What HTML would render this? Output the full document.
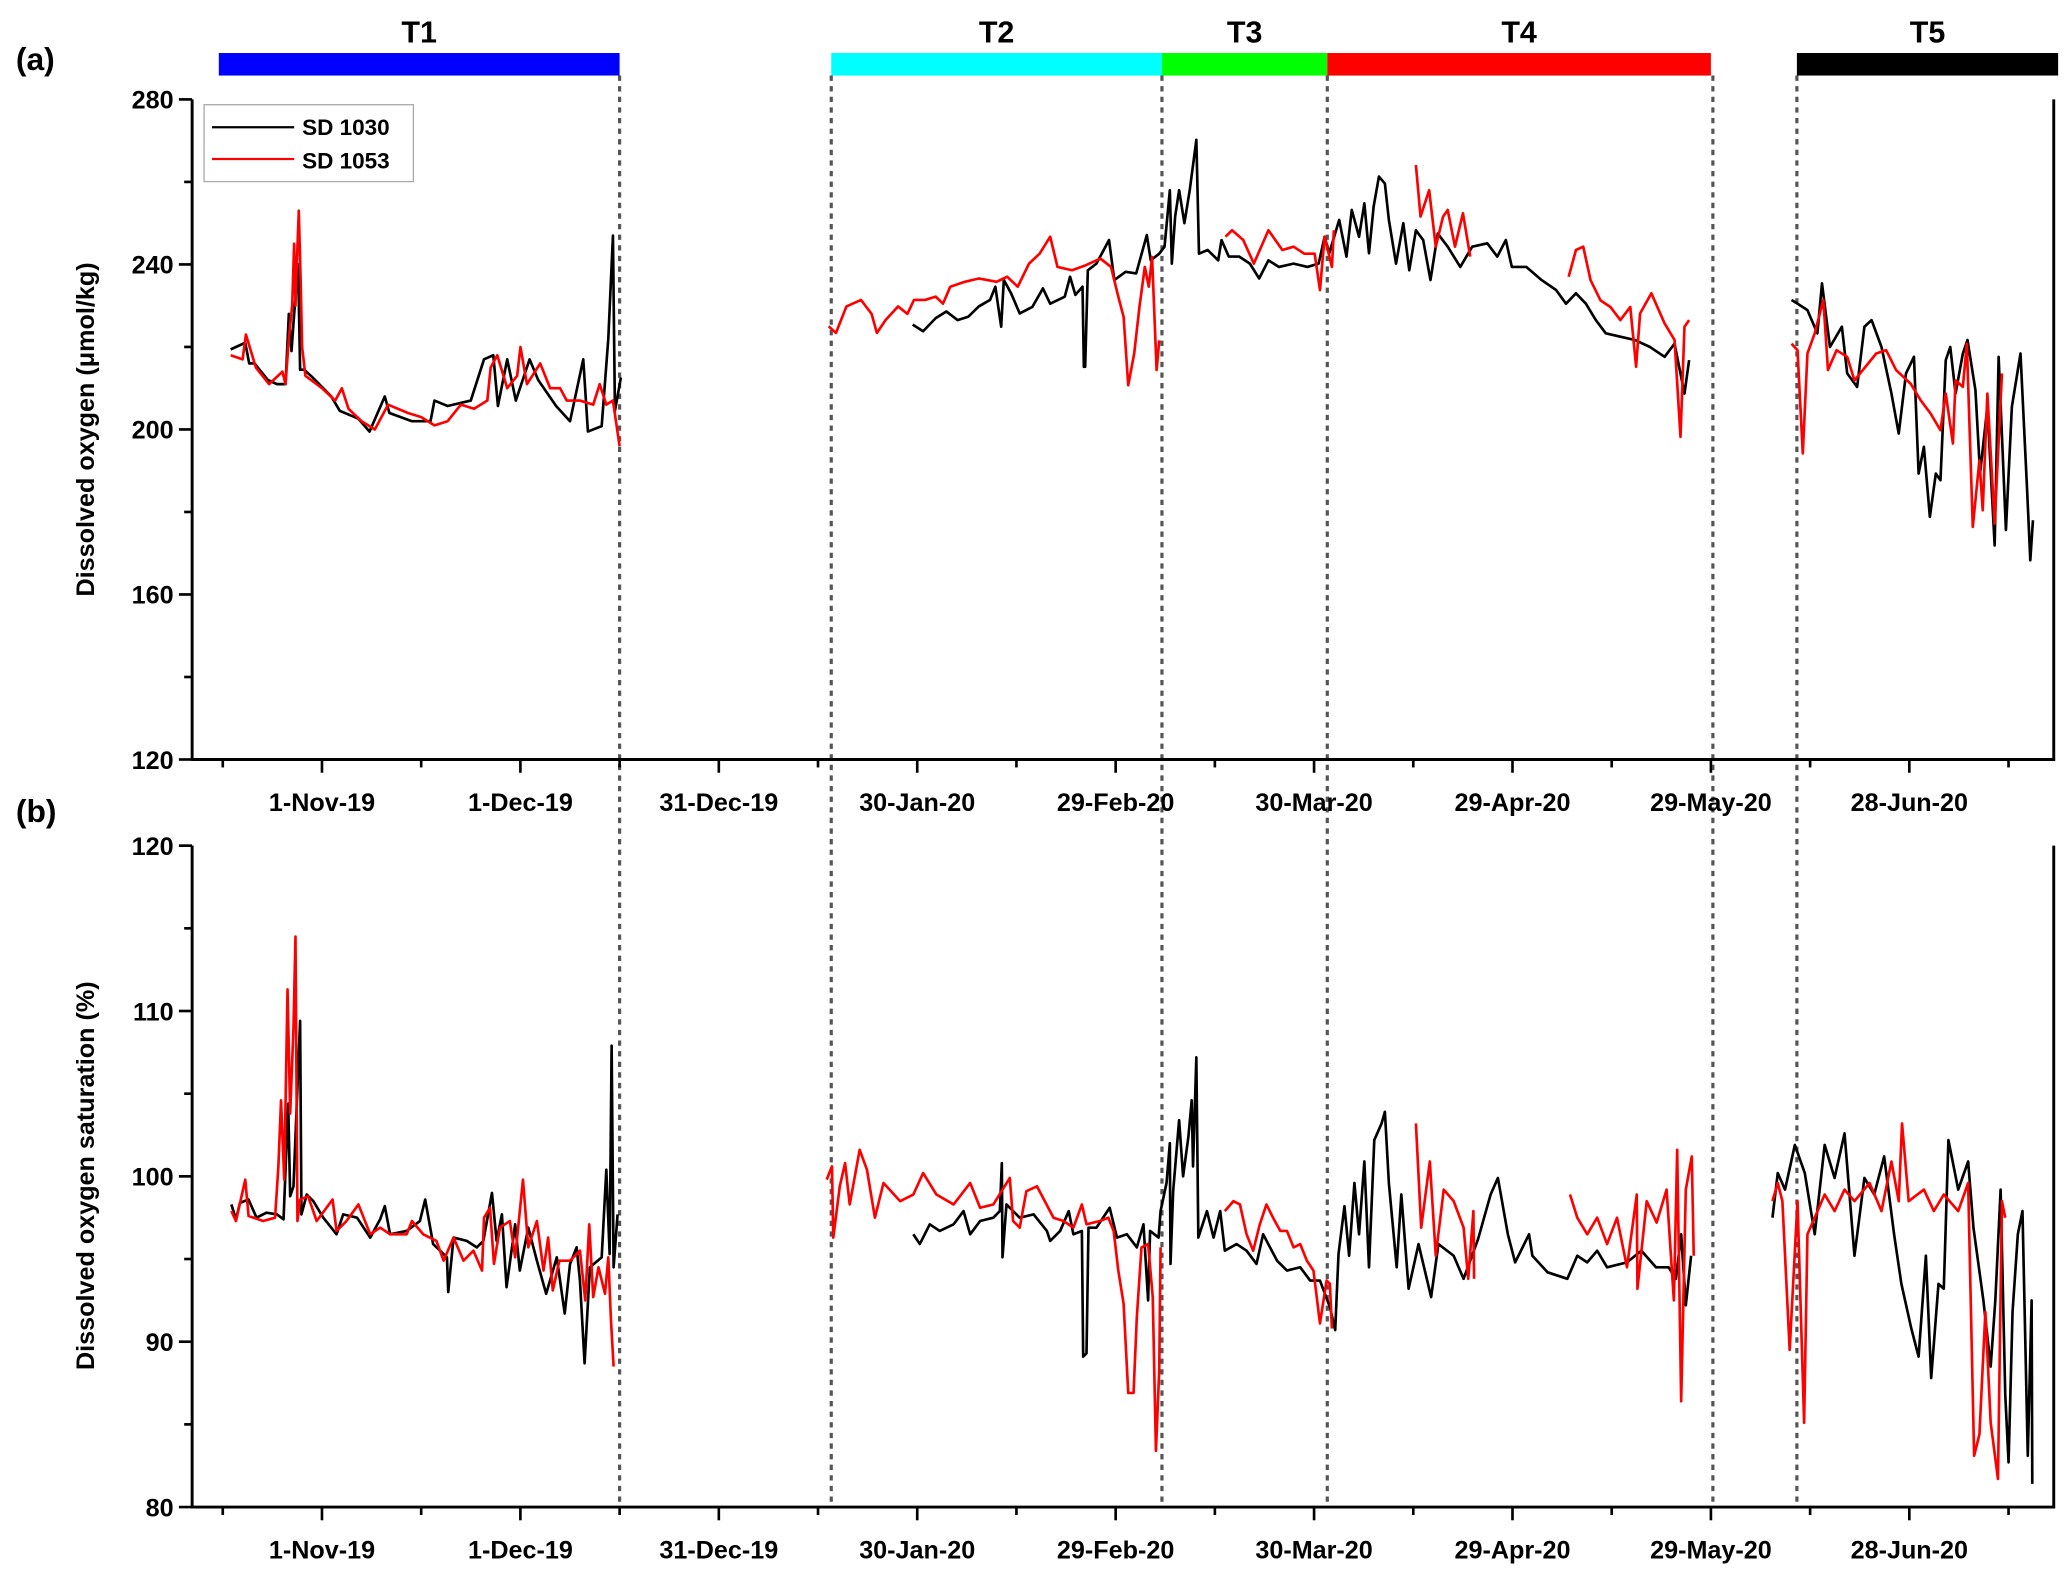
<!DOCTYPE html>
<html><head><meta charset="utf-8"><style>
html,body{margin:0;padding:0;background:#fff;}
svg{display:block;font-family:"Liberation Sans",Arial,sans-serif;font-weight:bold;}
</style></head><body>
<svg id="chart" width="2067" height="1572" viewBox="0 0 1560 1186" preserveAspectRatio="none" xmlns="http://www.w3.org/2000/svg"></svg>
<script>
// ---- data ----
const xTickDays = [0,30,60,90,120,150,180,210,240];
const xTickLabels = ["1-Nov-19","1-Dec-19","31-Dec-19","30-Jan-20","29-Feb-20","30-Mar-20","29-Apr-20","29-May-20","28-Jun-20"];
const yTicksA = [120,160,200,240,280];
const yTicksB = [80,90,100,110,120];
const periodNames = ["T1","T2","T3","T4","T5"];
const periodStart = [-15.6,77,127,152,223];
const periodEnd = [45,127,152,210,262.5];
const periodColors = ["#0000ff","#00ffff","#00ff00","#ff0000","#000000"];
const dividerDays = [45,77,127,152,210.3,223];

const aBlackDays = [-13.8,-11.6,-11,-10.2,-8.2,-6.8,-5.5,-5,-4.6,-4.2,-3.6,-3.3,-2.7,-1.4,1.4,2.7,5.5,7.2,9.5,10.2,13.6,16.4,17,19,22.5,24.5,25.9,26.6,28,29.3,31.4,32.7,35.4,37.5,39.5,40.2,42.3,43.3,44,44.3,45.2,null,
 89.3,90.9,92.8,94.4,96.1,97.7,99.3,101,101.8,102.7,103.1,104.2,105.5,107.4,109,110.1,112.3,113.1,113.9,115,115.2,115.4,115.8,117.1,119,119.8,121.5,123.1,124.7,125.3,126.6,127.4,128.2,128.5,129,129.6,130.4,131.2,131.8,132.2,132.6,133.9,135.5,136,137.1,138.7,140.3,141.7,143.1,144.7,146.9,149,150.7,151.6,152.3,153.8,154.9,155.7,156.8,157.6,158.3,159,159.8,160.7,161.3,162.4,163.5,164.4,165.4,166.5,167.6,168.7,170.2,172.1,173.9,176.2,177.7,179,179.9,182.1,184.4,186.6,188.1,189.6,191.1,192.6,194.1,196.3,198.5,200.8,203,204.5,206,206.7,null,
 222.2,223.1,224.6,226.1,226.8,228,229.8,230.6,232.1,233.2,234.3,235.8,237.3,238.4,239.5,240.7,241.4,242.2,243.1,244,244.7,245.5,246.2,247,248.1,248.8,250,250.7,251.8,252.9,253.5,254.6,255.5,256.8,257.8,258.3,258.7];
const aBlackVals = [219.4,221,216,216,212,211,211,228,219,228,240,214.5,214.5,212.6,208,204.5,202.6,199.5,208,204,202,202,207,205.7,207,217,218,205.7,217,207,217,212,205.7,202,217,199.5,200.8,222,247,204.5,212.6,null,
 225.4,223.8,227,228.6,226.5,227.3,229.8,231.4,234.6,224.9,236.2,233,228.1,229.7,234.2,230.5,232.2,237,232.6,234.6,215.2,215.2,238.6,240.2,245.9,236.2,238.2,237.8,247.1,241,242.6,244.3,258,240.2,251.6,258,250,258,265.3,270.2,242.6,243.5,241,245.9,241.9,241.9,240.2,236.6,241,239.4,240.2,239.4,240.2,246.7,242.7,250.8,241.9,253.2,246.7,254.8,242.7,254,261.3,259.6,250.8,240.2,250,238.6,248.3,245.9,236.2,247.5,244.3,239.4,244.3,245.1,241.9,245.9,239.4,239.4,236.2,233.8,230.5,233,230.5,226.5,223.3,222.5,221.7,220,217.6,220.8,208.7,216.8,null,
 231.4,230.5,228.9,223.3,235.4,220,224.9,213.6,210.3,224.9,226.5,220,208.7,199,213.6,217.6,189.3,195.8,178.8,189.3,187.7,216.8,220,208.7,218.4,221.7,209.5,189.3,205.5,171.9,217.6,175.6,205.5,218.4,185.3,168.3,178];

const aRedDays = [-13.8,-12,-11.5,-10,-8,-6,-5.5,-5,-4.5,-4.2,-4,-3.8,-3.5,-3.2,-3,-2.5,0,2,3,4,6,8,10,13,15,17,19,21,23,25,25.5,26.5,28,29.5,30,31,33,34.5,36,37,39,41,42,43,44,45,null,
 76.6,77.7,79.3,81.5,83.1,83.9,85.2,87.1,88.5,89.5,91.2,92.8,93.9,95,97.2,99.3,102,103.6,105.2,106.9,108.5,110.1,111.2,113.4,115.5,117.7,119.3,120.4,121.2,121.9,122.8,123.6,124.4,125,125.5,126.2,126.6,null,
 136.6,137.6,139.3,140.9,143.1,145.2,146.9,148.5,150.1,150.9,151.6,152.7,153,null,
 165.4,166.1,167.4,168.4,169.5,170.2,171.3,172.5,173.6,null,
 188.5,189.6,190.7,191.8,193.3,194.8,196.3,197.8,198.7,199.3,201,203,204.5,205.4,206,206.7,null,
 222.2,223.1,223.9,224.6,225.7,227,227.7,229,230.6,231.7,235,236.5,238,240.2,241.7,243.2,244.7,245.5,246.6,247,248.1,248.7,249.6,250.6,251.1,251.8,252.9,254];
const aRedVals = [218,217,223,215,211,214,211,222,230,245,230,240,253,235,220,213,210,207,210,205,202,200,206,204,203,201,202,206,205,207,215,218,210,213,220,211,216,210,210,207,207,206,211,206,207,196,null,
 225,223.4,229.8,231.4,228,223.4,226.5,229.8,228,231.4,231.4,232.2,230.5,234.6,235.8,236.6,235.8,237,234.6,240.2,242.6,246.7,239.4,238.6,239.8,241.4,239.4,232.2,227.3,210.7,218.4,229.8,239.4,234.6,241.8,214.4,221.6,null,
 246.7,248.3,245.9,240.2,248.3,243.5,244.3,242.6,242.6,233.8,246.7,239.4,248.3,null,
 264.1,251.6,258,244.3,251.6,253.2,244.3,252.4,241.9,null,
 237,243.5,244.3,236.2,231.3,229.7,226.5,229.7,215.2,228.1,233,225.7,221.7,198.2,224.9,226.5,null,
 220.8,219.2,194.2,218.4,223.3,231.4,214.4,219.2,217.6,211.9,218.4,219.2,214.4,211.1,207.1,203.9,199.8,208.7,196.6,211.9,210.3,220.8,176.4,192.5,180.4,208.7,177.2,213.6];

const bBlackDays = [-13.7,-13,-12.4,-11.1,-9.9,-8.4,-6.8,-5.8,-5.1,-4.8,-4.3,-3.3,-3.1,-2.3,-1.3,0.2,2.2,3.2,5.3,7.3,8.8,9.5,10.3,12.8,14.8,15.6,16.8,18.9,19.1,19.9,21.9,23.4,24.4,25.7,26.4,27.2,27.9,29.2,29.9,31.2,32.5,33.9,35.5,36.7,37.5,38.5,39,39.7,40.5,42.3,43,43.5,43.8,44.1,44.7,null,
 89.4,90.4,91.9,93.4,95.5,97,98,99.5,101.5,102.5,102.8,102.9,103.5,105.5,107.6,109.6,110.1,111.6,112.9,113.6,114.9,115.1,115.6,115.9,117.1,119.1,120.2,121.7,123.2,124.2,124.9,125.2,126.5,126.8,127.7,128.2,128.3,128.7,129.6,130.2,131,131.5,131.7,132.2,132.5,133.8,134.8,135.8,136.5,138.3,139.8,141.3,142.3,144.4,145.9,147.9,149.4,150.9,152.4,153.2,153.7,154.6,155.3,156.1,156.8,157.6,158.3,159.1,160.2,160.7,161.3,162.5,163.2,164.3,165.8,167.7,168.8,171.1,172.6,174.8,176.7,177.8,179.3,180.4,182.5,183,185.3,188.3,189.8,191.3,192.8,194.3,197.3,199.5,201.7,203.6,204.7,205.5,206.2,207,null,
 219.3,220.1,221.2,222.7,224.2,225.7,227.2,228.7,230.2,231.7,233.2,234.7,236.2,237.7,238.8,240.3,241.4,242.5,243.3,244.4,245.2,245.9,247.4,248.9,249.7,251.2,252.3,253,253.8,254.5,255,255.6,256.4,257.1,257.9,258.5,258.6];
const bBlackVals = [98.3,97.4,98.4,98.6,97.5,97.8,97.7,97.4,104.4,98.8,99.4,109.4,97.7,98.9,98.5,97.5,96.5,97.7,97.5,96.3,97.4,98.2,96.5,96.7,97.3,98.6,95.9,95.1,93,96.3,96.1,95.7,96.1,99,96.1,97.7,93.3,97.1,94.3,96.9,94.9,92.9,95.1,91.7,94.7,95.7,93.7,88.7,94.5,95.1,100.4,95.3,107.9,94.5,97.7,null,
 96.5,95.9,97.1,96.7,97.1,97.9,96.5,97.3,97.5,97.9,100.8,95.1,98.3,97.5,97.7,96.7,96.1,96.7,97.9,96.5,96.7,89.1,89.3,96.9,96.9,98.1,96.3,96.5,95.7,97.1,92.5,96.7,96.3,97.9,99.6,102,94.7,99.1,103.4,100,102.4,104.6,100.6,107.2,96.3,97.9,96.3,97.9,95.5,95.9,95.5,94.7,96.5,94.9,94.3,94.5,93.7,93.7,92.1,90.7,95.3,98.2,95.2,99.6,96.5,100.9,94.5,102.2,103.2,103.9,99.6,94.5,98.9,93.2,95.9,92.7,95.9,95.2,93.8,96.2,98.9,99.9,96.5,94.8,96.5,95.2,94.2,93.8,95.2,94.8,95.5,94.5,94.8,95.5,94.5,94.5,93.8,96.5,92.2,95.2,null,
 97.5,100.2,99.2,101.9,100.2,96.5,101.9,99.9,102.6,95.2,99.9,98.9,101.2,96.5,93.5,90.8,89.1,95.2,87.8,93.5,93.2,102.2,99.2,100.9,96.9,92.5,88.5,92.5,99.2,86.8,82.7,91.8,96.5,97.9,83.1,92.5,81.4];

const bRedDays = [-13.7,-13,-11.6,-11.1,-8.9,-7.1,-6.6,-6.2,-5.7,-5.2,-4.8,-4.3,-4,-3.7,-3.3,-2.1,-0.8,1.6,2.2,3.7,5.5,7.3,8.8,10.3,12.8,13.6,15.3,17.3,18.4,19.9,21.4,22.9,24.2,24.5,25.4,26,26.9,28.4,29.2,30.4,31.2,32.5,33.5,34.2,34.9,35.9,37.5,39,39.8,40.4,41,41.8,42.8,43.3,43.7,44.1,null,
 76.3,77.1,77.3,78.3,79.1,79.8,81.3,82.4,83.6,84.9,87.4,89.4,90.9,92.9,95.5,98,99.5,101.5,104,104.5,105.5,106.5,108.1,110.6,112.1,113.6,114.9,115.6,117.6,118.9,119.7,120.4,121.2,121.9,122.7,123.2,123.9,124.9,125.6,126.1,126.6,126.8,null,
 136.5,137.8,138.8,139.8,140.8,141.8,142.8,143.8,144.9,145.9,146.9,147.9,148.9,149.9,150.9,151.9,152.4,152.7,null,
 165.4,166.2,167.5,168.4,169.6,171.1,172.6,173.3,174.1,174.2,null,
 188.7,189.8,191.3,192.8,194.3,195.8,197.3,198.8,198.9,200.3,201.8,203.3,204.4,204.9,205.5,206.2,207.1,207.4,null,
 219.3,220.1,220.8,221.9,223.1,224.1,224.6,225.7,227.2,228.7,230.2,231.7,234,235.8,237.3,238.4,238.9,239.9,242.2,243.7,245.2,247.4,248.9,249.8,250.6,251.5,252.3,253.4,254,254.5];
const bRedVals = [97.9,97.3,99.8,97.6,97.3,97.5,100.6,104.6,99.8,111.3,103.8,109,114.5,97.3,98.6,98.8,97.3,98.6,96.7,97.3,98.3,96.5,96.9,96.5,96.5,97.3,96.5,96.1,94.9,96.3,94.9,95.5,94.3,97.5,98.1,94.7,96.9,97.3,95.1,99.8,95.7,97.3,94.3,96.3,93.1,94.9,94.9,95.5,92.5,97.1,92.7,94.5,92.9,95.1,91.3,88.5,null,
 99.8,100.6,96.3,99.4,100.8,98.3,101.6,100.4,97.5,99.6,98.5,98.9,100.2,98.9,98.3,99.6,98.1,98.3,99.9,97.3,96.9,99.1,99.4,97.5,97.3,96.9,98.3,97.1,97.3,97.5,96.7,94.3,92.3,86.9,86.9,91.5,95.7,95.9,92.7,83.4,88.3,95.7,null,
 97.9,98.5,98.3,96.5,95.5,97.1,98.3,97.5,96.7,96.7,95.7,95.9,94.9,94.3,91.1,93.7,93.5,90.8,null,
 103.2,96.9,100.9,95.2,99.2,98.5,96.9,93.8,97.9,93.8,null,
 98.9,97.5,96.5,97.5,95.9,97.5,94.5,98.9,93.2,98.5,97.2,99.2,92.5,101.6,86.4,99.2,101.2,95.2,null,
 98.5,99.6,98.5,89.5,98.5,85.1,96.5,97.5,98.9,97.9,99.2,98.5,99.6,97.9,100.9,98.5,103.2,98.5,99.2,97.9,98.9,97.9,99.6,83.1,84.4,91.8,85.1,81.7,98.5,97.5];

// ---- layout ----
const NS = "http://www.w3.org/2000/svg";
const svg = document.getElementById("chart");
const X0 = 243, PXD = 149.75/30;
const xScale = d => X0 + d*PXD;
const panelA = {top:75, bottom:573, min:120, max:280};
const panelB = {top:638, bottom:1137, min:80, max:120};
const yScale = (p,v) => p.bottom - (v-p.min)/(p.max-p.min)*(p.bottom-p.top);
const LEFT = 145, RIGHT = 1550;

function mk(tag, attrs, parent){
  const e = document.createElementNS(NS, tag);
  for (const k in attrs) e.setAttribute(k, attrs[k]);
  (parent||svg).appendChild(e);
  return e;
}
function txt(s, attrs, parent){ const t = mk("text", attrs, parent); t.textContent = s; return t; }

periodNames.forEach((n,i)=>{
  const x1 = xScale(periodStart[i]), x2 = xScale(periodEnd[i]);
  const r = mk("rect",{x:x1,y:40,width:x2-x1,height:17,fill:periodColors[i]});
  
  
  const t = txt(n,{x:(x1+x2)/2,y:32,"text-anchor":"middle","font-size":23});
  
  
});

dividerDays.forEach((d,i)=>{
  const l = mk("line",{x1:xScale(d),x2:xScale(d),y1:57,y2:1137,stroke:"#555","stroke-width":2.4,"stroke-dasharray":"4 4"});
  
  
});

function drawPanel(p, yTicks, minorStep, id){
  const g = mk("g",{});
  
  
  mk("line",{x1:LEFT,x2:LEFT,y1:p.top,y2:p.bottom+1,stroke:"#000","stroke-width":2.2},g);
  mk("line",{x1:RIGHT,x2:RIGHT,y1:p.top,y2:p.bottom+1,stroke:"#000","stroke-width":2.2},g);
  mk("line",{x1:LEFT,x2:RIGHT+1,y1:p.bottom,y2:p.bottom,stroke:"#000","stroke-width":2.2},g);
  for (let v=p.min; v<=p.max+0.001; v+=minorStep){
    const y = yScale(p,v);
    const major = yTicks.includes(v);
    mk("line",{x1:LEFT-(major?10:6),x2:LEFT,y1:y,y2:y,stroke:"#000","stroke-width":2},g);
  }
  yTicks.forEach(v=>{
    const t = txt(String(v),{x:LEFT-14,y:yScale(p,v)+7,"text-anchor":"end","font-size":19},g);
    
    
  });
  for (let d=-15; d<=255; d+=15){
    const major = xTickDays.includes(d);
    mk("line",{x1:xScale(d),x2:xScale(d),y1:p.bottom,y2:p.bottom+(major?10:6),stroke:"#000","stroke-width":2},g);
  }
  xTickDays.forEach((d,i)=>{
    const t = txt(xTickLabels[i],{x:xScale(d),y:p.bottom+39,"text-anchor":"middle","font-size":19},g);
    
    
  });
}
drawPanel(panelA, yTicksA, 20, "a");
drawPanel(panelB, yTicksB, 5, "b");

function drawSeries(p, days, vals, color, name){
  let d = "", pen = false;
  for (let i=0;i<days.length;i++){
    if (days[i]===null || vals[i]===null){ pen=false; continue; }
    d += (pen?"L":"M") + xScale(days[i]).toFixed(1) + " " + yScale(p,vals[i]).toFixed(1) + " ";
    pen = true;
  }
  const path = mk("path",{d:d,fill:"none",stroke:color,"stroke-width":2,"stroke-linejoin":"round"});
  
  
}
drawSeries(panelA, aBlackDays, aBlackVals, "#000", "series-sd1030-oxygen");
drawSeries(panelA, aRedDays, aRedVals, "#ff0000", "series-sd1053-oxygen");
drawSeries(panelB, bBlackDays, bBlackVals, "#000", "series-sd1030-saturation");
drawSeries(panelB, bRedDays, bRedVals, "#ff0000", "series-sd1053-saturation");
</script>
<script>
(function(){
  const svg = document.getElementById("chart");
  const NS = "http://www.w3.org/2000/svg";
  function add(tag, attrs, s){ const e=document.createElementNS(NS,tag); for(const k in attrs) e.setAttribute(k,attrs[k]); if(s) e.textContent=s; svg.appendChild(e); return e; }
  const la = add("text",{x:12,y:53,"font-size":24},"(a)");
  
  
  const lb = add("text",{x:12,y:620,"font-size":24},"(b)");
  
  
  const ya = add("text",{x:0,y:0,"font-size":19,"text-anchor":"middle",transform:"translate(71,324) rotate(-90)"},"Dissolved oxygen (μmol/kg)");
  
  
  const yb = add("text",{x:0,y:0,"font-size":19,"text-anchor":"middle",transform:"translate(71,887) rotate(-90)"},"Dissolved oxygen saturation (%)");
  
  
  const box = add("rect",{x:154,y:79,width:158,height:58,fill:"#fff",stroke:"#aaa","stroke-width":1});
  
  
  const l1 = add("line",{x1:160,x2:222,y1:96,y2:96,stroke:"#000","stroke-width":1.7});
  
  
  const t1 = add("text",{x:228,y:102,"font-size":17},"SD 1030");
  
  
  const l2 = add("line",{x1:160,x2:222,y1:120,y2:120,stroke:"#ff0000","stroke-width":1.7});
  
  
  const t2 = add("text",{x:228,y:127,"font-size":17},"SD 1053");
  
  
})();
</script>
</body></html>
